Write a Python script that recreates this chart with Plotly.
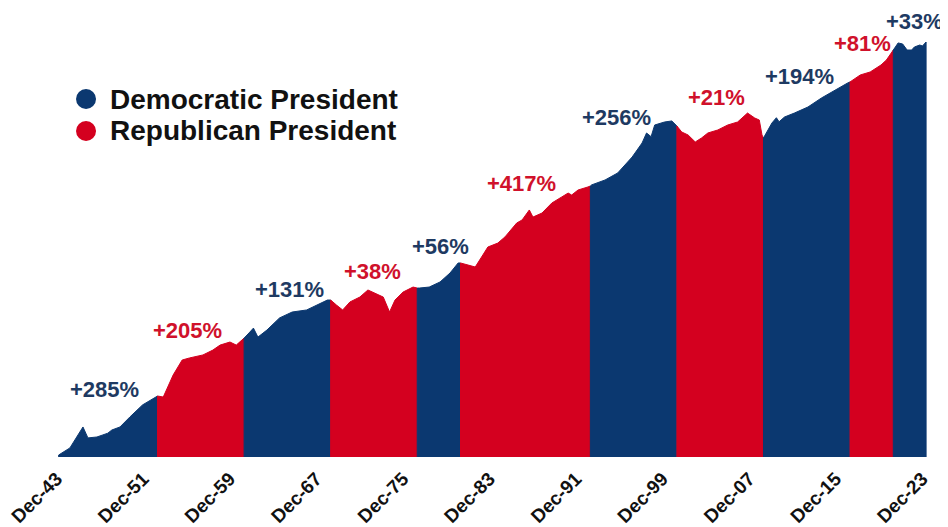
import numpy as np
import plotly.graph_objects as go

# ---------------- data (growth of $1) ----------------
PERIOD_PARTY = ["D", "R", "D", "R", "D", "R", "D", "R", "D", "R", "D"]
PERIOD_LABEL = ["+285%", "+205%", "+131%", "+38%", "+56%", "+417%",
                "+256%", "+21%", "+194%", "+81%", "+33%"]

P1_DATES = ["1943-12-01", "1944-12-15", "1946-03-01", "1946-08-15", "1947-06-15",
            "1948-01-01", "1948-06-15", "1948-11-01", "1949-08-01", "1950-07-01",
            "1951-09-01", "1953-01-20"]
P1_VALS = [1.0, 1.17, 1.86, 1.46, 1.49, 1.56, 1.62, 1.74, 1.86, 2.32, 3.03, 3.69]

P2_DATES = ["1953-01-20", "1953-08-01", "1954-07-01", "1955-05-01", "1956-01-01",
            "1957-04-01", "1958-03-01", "1958-11-01", "1959-10-01", "1960-05-01",
            "1961-01-20"]
P2_VALS = [3.69, 3.61, 5.88, 8.19, 8.57, 9.16, 10.2, 11.4, 12.2, 11.4, 13.3]

P3_DATES = ["1961-01-20", "1961-08-01", "1961-12-01", "1962-05-01", "1963-03-01",
            "1964-05-01", "1965-07-01", "1966-11-01", "1967-10-01", "1968-10-01",
            "1969-01-20"]
P3_VALS = [13.3, 15.2, 16.6, 13.6, 15.9, 20.8, 23.7, 24.8, 27.7, 30.9, 30.9]

P4_DATES = ["1969-01-20", "1969-08-01", "1970-03-01", "1970-11-01", "1971-10-01",
            "1972-07-01", "1972-12-01", "1973-12-01", "1974-07-01", "1975-01-01",
            "1975-10-01", "1976-09-01", "1977-01-20"]
P4_VALS = [30.9, 27.7, 24.8, 29.6, 33.0, 38.6, 36.9, 33.0, 23.7, 30.9, 36.9, 41.2, 40.3]

P5_DATES = ["1977-01-20", "1977-04-01", "1978-03-01", "1979-03-01", "1980-02-01",
            "1980-11-01", "1981-01-20"]
P5_VALS = [40.3, 40.3, 41.2, 46.1, 56.2, 70.2, 70.2]

P6_DATES = ["1981-01-20", "1981-10-01", "1982-06-01", "1983-01-01", "1983-08-01",
            "1984-07-01", "1985-03-01", "1986-04-01", "1986-10-01", "1987-06-01",
            "1987-10-01", "1988-08-01", "1989-07-01", "1990-06-01", "1991-01-01",
            "1991-05-01", "1991-12-01", "1992-11-01", "1993-01-20"]
P6_VALS = [70.2, 67.1, 64.2, 80.1, 100, 109, 125, 170, 182, 227,
           194, 212, 265, 303, 330, 316, 353, 378, 386]

P7_DATES = ["1993-01-20", "1993-03-01", "1994-06-01", "1995-08-01", "1996-12-01",
            "1997-11-01", "1998-04-01", "1998-09-01", "1999-01-01", "1999-12-01",
            "2000-08-01", "2001-01-20"]
P7_VALS = [386, 395, 441, 515, 733, 1000, 1248, 1150, 1489, 1592, 1629, 1457]

P8_DATES = ["2001-01-20", "2001-07-01", "2002-02-01", "2002-10-01", "2003-05-01",
            "2003-12-01", "2004-11-01", "2005-10-01", "2006-09-01", "2007-08-01",
            "2008-04-01", "2008-09-01", "2008-12-01", "2009-01-20"]
P8_VALS = [1457, 1276, 1194, 1023, 1117, 1248, 1334, 1489, 1592, 1941,
           1738, 1663, 1194, 1117]

P9_DATES = ["2009-01-20", "2009-11-01", "2010-04-01", "2010-07-01", "2011-01-01",
            "2011-12-01", "2013-03-01", "2014-06-01", "2015-09-01", "2016-11-01",
            "2017-01-20"]
P9_VALS = [1117, 1556, 1750, 1600, 1778, 1941, 2218, 2710, 3236, 3776, 3863]

P10_DATES = ["2017-01-20", "2018-01-01", "2018-12-01", "2019-12-01", "2020-06-01",
             "2021-01-20"]
P10_VALS = [3863, 4508, 4819, 5623, 6281, 7834]

P11_DATES = ["2021-01-20", "2021-07-01", "2021-12-01", "2022-05-01", "2022-10-01",
             "2023-01-01", "2023-07-01", "2023-10-01", "2024-01-31"]
P11_VALS = [7834, 9162, 8955, 7834, 7834, 8375, 8750, 8570, 9354]

PERIOD_DATES = [P1_DATES, P2_DATES, P3_DATES, P4_DATES, P5_DATES, P6_DATES,
                P7_DATES, P8_DATES, P9_DATES, P10_DATES, P11_DATES]
PERIOD_VALS = [P1_VALS, P2_VALS, P3_VALS, P4_VALS, P5_VALS, P6_VALS,
               P7_VALS, P8_VALS, P9_VALS, P10_VALS, P11_VALS]

TICK_DATES = ["1943-12-01", "1951-12-01", "1959-12-01", "1967-12-01", "1975-12-01",
              "1983-12-01", "1991-12-01", "1999-12-01", "2007-12-01", "2015-12-01",
              "2023-12-01"]
TICK_TEXT = ["Dec-43", "Dec-51", "Dec-59", "Dec-67", "Dec-75", "Dec-83",
             "Dec-91", "Dec-99", "Dec-07", "Dec-15", "Dec-23"]

# ---------------- layout / style (not data) ----------------
LABEL_X = ["1948-03-01", "1955-11-01", "1965-04-01", "1972-12-01", "1979-03-01",
           "1986-09-01", "1995-07-01", "2004-09-01", "2012-06-01", "2018-03-01",
           "2023-01-01"]
LABEL_Y = [4.3, 15.9, 39.4, 58.7, 102, 404, 1778, 2710, 4318, 8955, 14890]

BLUE = "#0B3870"
RED = "#D4001F"
BLUE_TXT = "#1E3A62"
RED_TXT = "#D0112B"
FONT = "Liberation Sans, Arial, sans-serif"

BASE = 0.94
Y_RANGE = [-0.0192, 4.298]
X_RANGE = ["1939-03-27", "2026-02-09"]

fig = go.Figure()
for party, dates, vals in zip(PERIOD_PARTY, PERIOD_DATES, PERIOD_VALS):
    col = BLUE if party == "D" else RED
    xs = [dates[0]] + list(dates) + [dates[-1], dates[0]]
    ys = [BASE] + list(vals) + [BASE, BASE]
    fig.add_trace(go.Scatter(
        x=xs, y=ys, mode="lines", fill="toself", fillcolor=col,
        line=dict(color=col, width=1), hoverinfo="skip", showlegend=False))

for party, txt, lx, ly in zip(PERIOD_PARTY, PERIOD_LABEL, LABEL_X, LABEL_Y):
    fig.add_annotation(
        x=lx, y=np.log10(ly), xref="x", yref="y", text=txt, showarrow=False,
        xanchor="center", yanchor="middle",
        font=dict(family=FONT, size=22, weight="bold",
                  color=BLUE_TXT if party == "D" else RED_TXT))

# legend built from shapes + text
LEGEND_ITEMS = [("Democratic President", BLUE), ("Republican President", RED)]
for i, (name, col) in enumerate(LEGEND_ITEMS):
    yc = 0.7973 - i * 0.0712
    fig.add_shape(type="circle", xref="paper", yref="paper",
                  xsizemode="pixel", ysizemode="pixel",
                  xanchor=0.0830, yanchor=yc, x0=-10, x1=10, y0=-10, y1=10,
                  fillcolor=col, line=dict(width=0))
    fig.add_annotation(x=0.1064, y=yc, xref="paper", yref="paper", text=name,
                       showarrow=False, xanchor="left", yanchor="middle",
                       font=dict(family=FONT, size=28, weight="bold", color="#111111"))

fig.update_layout(
    width=940, height=519,
    margin=dict(l=0, r=0, t=0, b=70),
    paper_bgcolor="white", plot_bgcolor="white",
    xaxis=dict(type="date", range=X_RANGE, tickmode="array",
               tickvals=TICK_DATES, ticktext=TICK_TEXT, tickangle=-45,
               showgrid=False, zeroline=False, showline=False, ticks="",
               automargin=False, ticklabelstandoff=6, ticklabelshift=-2,
               ticklabeloverflow="allow",
               tickfont=dict(family=FONT, size=19, weight="bold", color="#111111")),
    yaxis=dict(type="log", range=Y_RANGE, visible=False, showgrid=False,
               automargin=False),
    showlegend=False,
)

fig.write_html("out.html")
